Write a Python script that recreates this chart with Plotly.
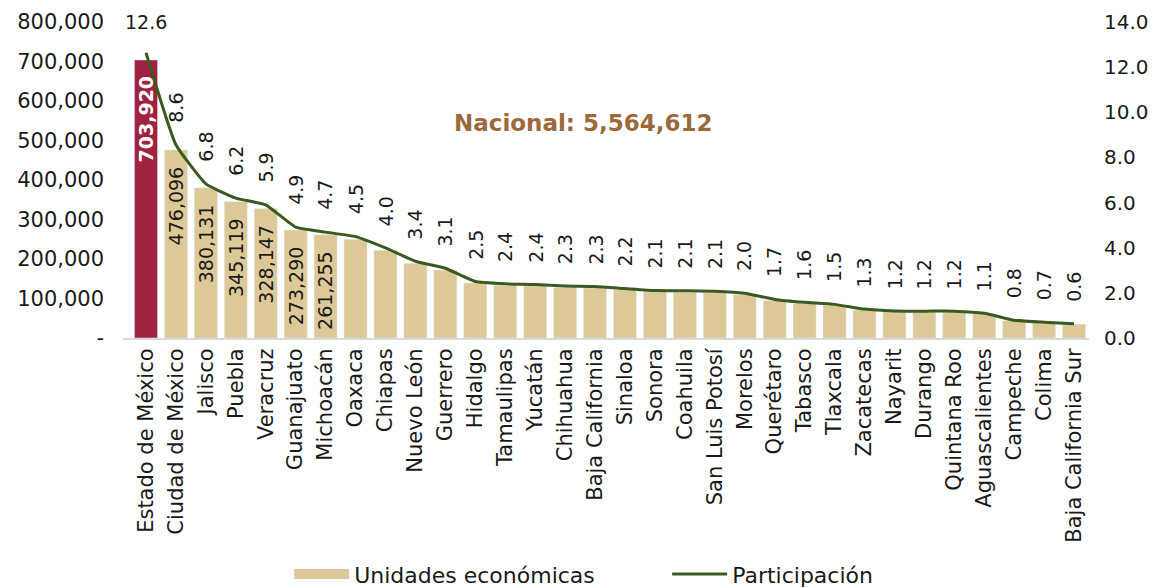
import plotly.graph_objects as go

# estados ordenados por unidades economicas
estados = ["Estado de México", "Ciudad de México", "Jalisco", "Puebla", "Veracruz",
           "Guanajuato", "Michoacán", "Oaxaca", "Chiapas", "Nuevo León", "Guerrero",
           "Hidalgo", "Tamaulipas", "Yucatán", "Chihuahua", "Baja California", "Sinaloa",
           "Sonora", "Coahuila", "San Luis Potosí", "Morelos", "Querétaro", "Tabasco",
           "Tlaxcala", "Zacatecas", "Nayarit", "Durango", "Quintana Roo",
           "Aguascalientes", "Campeche", "Colima", "Baja California Sur"]

unidades = [703920, 476096, 380131, 345119, 328147, 273290, 261255, 250000, 222000,
            189000, 172000, 139000, 133000, 132000, 128000, 127000, 122000, 117000,
            116000, 115000, 110000, 95000, 88000, 83000, 71000, 67000, 66000, 66000,
            61000, 44000, 39000, 35000]

participacion = [12.64, 8.56, 6.83, 6.20, 5.90, 4.91, 4.69, 4.49, 3.99, 3.40, 3.09,
                 2.50, 2.40, 2.37, 2.30, 2.28, 2.19, 2.10, 2.09, 2.07, 1.98, 1.71,
                 1.58, 1.49, 1.28, 1.20, 1.19, 1.19, 1.10, 0.79, 0.70, 0.63]

n_etiquetas = 7  # solo los primeros llevan valor en la barra
nacional = "Nacional: 5,564,612"

GUINDA = "#9F2241"
DORADO = "#DDC897"
VERDE = "#3A5A22"
FONT = "DejaVu Sans"
NEGRO = "#1a1a1a"

fig = go.Figure()
fig.add_trace(go.Bar(x=estados, y=unidades, name="Unidades económicas",
                     marker_color=DORADO, showlegend=False))
# la barra destacada
fig.add_trace(go.Bar(x=estados[:1], y=unidades[:1], marker_color=GUINDA, showlegend=False))
# muestra de leyenda para las barras
fig.add_trace(go.Scatter(x=[None], y=[None], mode="lines", name="Unidades económicas",
                         line=dict(color=DORADO, width=12)))
fig.add_trace(go.Scatter(x=estados, y=participacion, name="Participación",
                         mode="lines", yaxis="y2",
                         line=dict(color=VERDE, width=3, shape="spline", smoothing=0.4)))

# etiquetas de las barras
for i in range(n_etiquetas):
    txt = f"<b>{unidades[i]:,}</b>" if i == 0 else f"{unidades[i]:,}"
    fig.add_annotation(x=estados[i], y=unidades[i], text=txt,
                       showarrow=False, textangle=-90, yanchor="top", yshift=-14,
                       font=dict(family=FONT, size=19,
                                 color="white" if i == 0 else NEGRO))

# etiquetas de participacion
for i, (e, p) in enumerate(zip(estados, participacion)):
    if i == 0:
        fig.add_annotation(x=e, y=14.0, yref="y2", text=f"{p:.1f}", showarrow=False,
                           yanchor="middle", font=dict(family=FONT, size=19, color=NEGRO))
    else:
        fig.add_annotation(x=e, y=p, yref="y2", text=f"{p:.1f}", showarrow=False,
                           textangle=-90, yanchor="bottom", yshift=20,
                           font=dict(family=FONT, size=19, color=NEGRO))

fig.add_annotation(x=0.477, y=0.68, xref="paper", yref="paper", text=f"<b>{nacional}</b>",
                   showarrow=False, yanchor="middle",
                   font=dict(family=FONT, size=23, color="#9C6A3A"))

fig.update_layout(
    width=1156, height=588,
    margin=dict(l=115, r=75, t=14, b=258),
    plot_bgcolor="white", paper_bgcolor="white",
    font=dict(family=FONT, size=19, color=NEGRO),
    barmode="overlay",
    bargap=0.23,
    showlegend=True,
    legend=dict(orientation="h", x=0.172, xanchor="left", yref="container", y=0.037,
                yanchor="middle", font=dict(size=22), entrywidth=308, itemwidth=55),
    xaxis=dict(tickangle=-90, showline=True, linecolor="#d9d9d9", linewidth=2,
               ticks="", tickfont=dict(size=21), automargin=False),
    yaxis=dict(range=[0, 800000], tickvals=[0, 100000, 200000, 300000, 400000, 500000,
                                            600000, 700000, 800000],
               ticktext=["-", "100,000", "200,000", "300,000", "400,000", "500,000",
                         "600,000", "700,000", "800,000"],
               showgrid=False, zeroline=False, ticklabelstandoff=18,
               tickfont=dict(size=21), automargin=False),
    yaxis2=dict(range=[0, 14], overlaying="y", side="right", dtick=2, tickformat=".1f",
                showgrid=False, zeroline=False, ticklabelstandoff=14,
                tickfont=dict(size=20), automargin=False),
)

fig.write_html("out.html")
